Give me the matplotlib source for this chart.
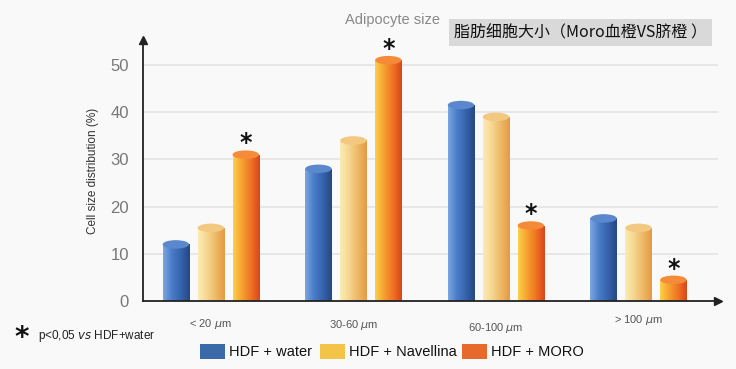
import numpy as np
import matplotlib.pyplot as plt
from matplotlib.patches import Rectangle, Ellipse
from matplotlib.colors import LinearSegmentedColormap

plt.rcParams['font.family'] = ['Liberation Sans', 'DejaVu Sans']

categories = ['< 20 $\\mu$m', '30-60 $\\mu$m', '60-100 $\\mu$m', '> 100 $\\mu$m']
series_names = ['HDF + water', 'HDF + Navellina', 'HDF + MORO']
water = [12.0, 28.0, 41.5, 17.5]
navellina = [15.5, 34.0, 39.0, 15.5]
moro = [31.0, 51.0, 16.0, 4.5]
significant = [True, True, True, True]  # MORO vs water

# cylinder shading: left -> right
grads = [['#7aa6e0', '#4a7cc8', '#3563ae', '#27477f'],
         ['#fbecb4', '#f6d690', '#eeb866', '#e39a45'],
         ['#fbd04a', '#f7a030', '#ef7424', '#d9461c']]
caps = ['#5b88cc', '#f3c880', '#f58a38']
legend_cols = ['#3b6aa8', '#f4c448', '#e8692c']

fig = plt.figure(figsize=(7.36, 3.69), dpi=100)
fig.patch.set_facecolor('#f9f9f9')
ax = fig.add_axes([0.194, 0.184, 0.782, 0.708])
ax.set_facecolor('#f9f9f9')

for v in [10, 20, 30, 40, 50]:
    ax.axhline(v, color='#e4e4e4', lw=1.2, zorder=0)

w = 0.185
offs = [-0.245, 0.0, 0.245]
cap_h = 1.8
grad_img = np.linspace(0, 1, 64).reshape(1, -1)
for s, vals in enumerate([water, navellina, moro]):
    cmap = LinearSegmentedColormap.from_list('c%d' % s, grads[s])
    for i, v in enumerate(vals):
        x0 = i + offs[s] - w / 2
        body = Rectangle((x0, 0), w, v, transform=ax.transData)
        im = ax.imshow(grad_img, cmap=cmap, extent=[x0, x0 + w, -cap_h, v],
                       aspect='auto', zorder=2, interpolation='bilinear')
        im.set_clip_path(body)
        bot = Ellipse((x0 + w / 2, 0), w, cap_h, transform=ax.transData)
        im2 = ax.imshow(grad_img, cmap=cmap, extent=[x0, x0 + w, -cap_h, cap_h],
                        aspect='auto', zorder=2, interpolation='bilinear')
        im2.set_clip_path(bot)
        ax.add_patch(Ellipse((x0 + w / 2, v), w, cap_h, facecolor=caps[s],
                             edgecolor='none', zorder=3))
        if s == 2 and significant[i]:
            ax.text(i + offs[s], v + 2.4, '*', ha='center', va='center',
                    fontsize=17, fontweight='bold', color='#111', zorder=4,
                    family='DejaVu Sans')

ax.set_xlim(-0.477, 3.56)
ax.set_ylim(0, 55.3)

for sp in ['top', 'right']:
    ax.spines[sp].set_visible(False)
for sp in ['left', 'bottom']:
    ax.spines[sp].set_color('#222')
    ax.spines[sp].set_linewidth(1.3)
ax.plot(1, 0, '>', color='#222', ms=6, transform=ax.transAxes, clip_on=False)
ax.plot(0, 1, '^', color='#222', ms=6, transform=ax.transAxes, clip_on=False)

ax.set_xticks([])
ax.set_yticks([0, 10, 20, 30, 40, 50])
ax.set_yticklabels(['0', '10', '20', '30', '40', '50'], fontsize=12, color='#777')
ax.tick_params(axis='y', length=0, pad=10)
ax.set_ylabel('Cell size distribution (%)', fontsize=8.5, color='#333', labelpad=8)

label_dy = [-4.8, -5.0, -5.6, -4.0]
for i, c in enumerate(categories):
    ax.text(i, label_dy[i], c, ha='center', va='center', fontsize=8, color='#555')

fig.text(0.533, 0.945, 'Adipocyte size', ha='center', va='center',
         fontsize=10.5, color='#888')
fig.text(0.617, 0.912, '脂肪细胞大小（Moro血橙VS脐橙 ）', ha='left', va='center',
         fontsize=11.5, color='#111',
         family=['Noto Sans CJK SC', 'DejaVu Sans'],
         bbox=dict(boxstyle='square,pad=0.3', fc='#d9d9d9', ec='none'))

fig.text(0.02, 0.085, '*', ha='left', va='center', fontsize=20,
         fontweight='bold', color='#111', family='DejaVu Sans')
fig.text(0.052, 0.09, 'p<0,05 $\\it{vs}$ HDF+water', ha='left', va='center',
         fontsize=8.5, color='#222')

# legend
lx = [0.272, 0.435, 0.628]
for k, name in enumerate(series_names):
    fig.patches.append(Rectangle((lx[k], 0.027), 0.034, 0.04, transform=fig.transFigure,
                                 facecolor=legend_cols[k], edgecolor='none'))
    fig.text(lx[k] + 0.039, 0.047, name, ha='left', va='center', fontsize=10.5, color='#111')

fig.savefig('out.png', dpi=100, facecolor=fig.get_facecolor())
